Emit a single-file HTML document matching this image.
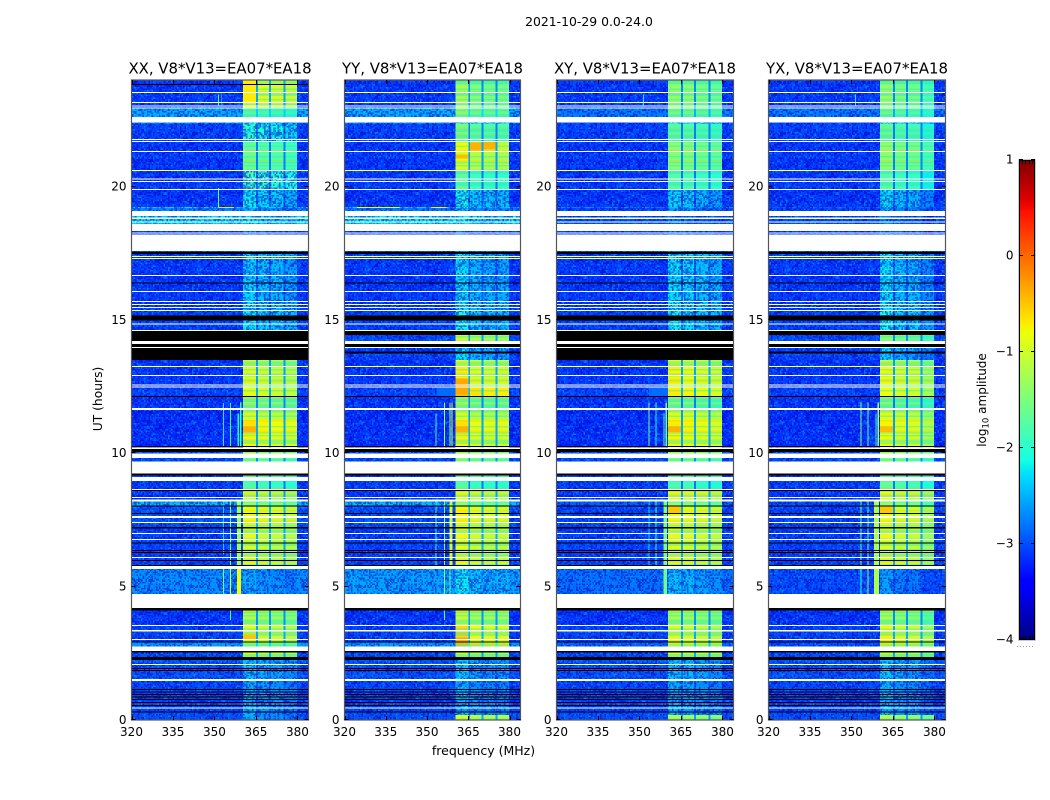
<!DOCTYPE html>
<html>
<head>
<meta charset="utf-8">
<title>2021-10-29 0.0-24.0</title>
<style>
html,body{margin:0;padding:0;background:#fff;width:1050px;height:800px;overflow:hidden}
svg{display:block}
text{font-family:"DejaVu Sans","Liberation Sans",sans-serif;fill:#000}
</style>
</head>
<body>
<svg id="figure" width="1050" height="800" viewBox="0 0 1050 800" xmlns="http://www.w3.org/2000/svg">
  <defs>
    <pattern id="grain" x="0" y="0" width="84" height="84" patternUnits="userSpaceOnUse"></pattern>
    <pattern id="stripes" x="0" y="0" width="12" height="90" patternUnits="userSpaceOnUse"></pattern>
    <linearGradient id="jetGradient" x1="0" y1="1" x2="0" y2="0"></linearGradient>
  </defs>
  <text x="589" y="26" font-size="12.4" text-anchor="middle">2021-10-29 0.0-24.0</text>
  <text x="483.5" y="755" font-size="12.5" text-anchor="middle">frequency (MHz)</text>
  <text transform="translate(102,399) rotate(-90)" font-size="12.3" text-anchor="middle">UT (hours)</text>
  <text transform="translate(986,400) rotate(-90)" font-size="12" text-anchor="middle">log<tspan font-size="8.5" dy="2.5">10</tspan><tspan dy="-2.5"> amplitude</tspan></text>
  <g id="panels"></g>
  <g id="colorbar"></g>
</svg>
<script>
/* ---------- axis ticks ---------- */
const freqTicks = [320, 335, 350, 365, 380];
const utTicks = [0, 5, 10, 15, 20];
const colorbarTicks = [1, 0, -1, -2, -3, -4];

/* ---------- frequency columns (MHz) ---------- */
const freqEdges = [320, 360.4, 365.1, 365.7, 369.8, 370.5, 374.9, 375.6, 379.9, 384];
const columnKinds = ['bg', 0, 'gap', 1, 'gap', 2, 'gap', 3, 'bg'];

/* ---------- UT bands (hours), ascending ---------- */
const utEdges = [0,0.19,0.30,1.46,2.25,2.55,2.92,3.32,3.53,4.2,5.7,6.0,6.62,7.19,7.41,8.02,8.22,8.61,8.96,9.69,9.99,10.28,10.69,11.25,11.67,12.13,12.47,13.26,13.5,13.78,14.1,14.5,15.34,17.55,18.34,19.09,19.2,19.24,19.9,20.6,21.32,21.7,22.36,22.61,22.95,23.8,24];

/* ---------- log10 amplitude per UT band ---------- */
const xxBackground = [-3.0,-3.0,-3.05,-2.95,-3.0,-2.6,-3.05,-3.05,-3.1,-2.65,-3.05,-3.05,-3.05,-3.0,-2.95,-2.45,-3.1,-3.05,-3.05,-3.0,-3.0,-3.15,-3.15,-3.15,-3.1,-3.05,-3.1,-3.1,-3.05,-3.1,-3.0,-3.05,-3.1,-3.05,-2.25,-2.7,-2.3,-3.1,-3.1,-3.1,-3.1,-3.05,-2.5,-2.5,-3.1,-3.1];
const xxBlocks = [-2.6,-2.6,-2.6,-2.5,-1.1,-1.4,-0.95,-1.0,-1.3,-2.6,-1.05,-1.0,-1.0,-1.0,-0.95,-1.5,-1.1,-1.9,-1.5,-1.6,-0.9,-0.85,-0.75,-1.05,-1.5,-0.95,-1.0,-1.15,-2.4,-2.4,-1.6,-2.3,-2.4,-2.9,-2.3,-2.6,-2.3,-2.3,-1.96,-1.7,-1.75,-2.1,-2.3,-1.9,-0.9,-0.8];
const yyBackground = [-3.0,-3.0,-3.05,-2.95,-3.0,-2.6,-3.05,-3.05,-3.1,-2.55,-3.05,-3.05,-3.05,-3.0,-3.0,-2.45,-3.1,-3.05,-3.05,-3.0,-3.0,-3.15,-3.15,-3.15,-3.1,-3.05,-3.1,-3.1,-3.05,-3.1,-3.0,-3.05,-3.1,-3.05,-2.2,-2.75,-2.3,-3.1,-3.1,-3.1,-3.1,-3.05,-2.5,-2.5,-3.1,-3.1];
const yyBlocks = [-1.1,-2.6,-2.6,-2.5,-1.2,-0.6,-0.75,-0.75,-1.2,-2.35,-1.0,-0.95,-0.95,-0.95,-0.9,-1.5,-1.0,-1.9,-1.5,-1.5,-0.9,-0.9,-0.8,-1.1,-1.5,-0.6,-0.85,-0.95,-2.4,-2.4,-1.2,-2.3,-2.4,-2.9,-2.3,-2.6,-2.3,-2.3,-1.85,-1.1,-0.95,-1.7,-2.2,-1.6,-1.4,-1.6];
const xyBackground = [-3.0,-3.0,-3.05,-2.95,-3.0,-2.9,-3.05,-3.05,-3.1,-2.8,-3.05,-3.05,-3.05,-3.05,-3.05,-2.9,-3.1,-3.05,-3.05,-3.0,-3.0,-3.15,-3.15,-3.15,-3.1,-3.05,-3.1,-3.1,-3.05,-3.1,-3.0,-3.05,-3.1,-3.05,-3.0,-3.05,-2.7,-3.1,-3.1,-3.1,-3.1,-3.05,-3.0,-2.75,-3.1,-3.1];
const xyBlocks = [-1.3,-2.6,-2.6,-2.5,-1.1,-0.9,-0.95,-1.0,-1.35,-2.5,-1.05,-0.95,-0.95,-1.0,-0.95,-1.5,-0.95,-1.95,-1.5,-1.6,-0.9,-0.85,-0.8,-1.0,-1.65,-0.8,-0.85,-1.0,-2.4,-2.4,-1.6,-2.3,-2.35,-2.9,-2.9,-2.7,-2.5,-2.4,-1.85,-1.55,-1.5,-1.85,-2.3,-1.7,-1.45,-1.6];
const yxBackground = [-3.0,-3.0,-3.05,-2.95,-3.0,-3.0,-3.05,-3.05,-3.1,-3.0,-3.05,-3.05,-3.05,-3.05,-3.05,-3.0,-3.1,-3.05,-3.05,-3.0,-3.0,-3.15,-3.15,-3.15,-3.1,-3.05,-3.1,-3.1,-3.05,-3.1,-3.0,-3.05,-3.1,-3.05,-3.0,-3.05,-2.9,-3.1,-3.1,-3.1,-3.1,-3.05,-3.0,-2.75,-3.1,-3.1];
const yxBlocks = [-1.3,-2.6,-2.6,-2.5,-1.2,-0.9,-0.9,-0.95,-1.4,-2.7,-1.05,-1.0,-1.0,-1.0,-1.0,-1.5,-1.0,-1.8,-1.5,-1.6,-0.95,-0.95,-0.9,-1.05,-1.7,-0.95,-0.95,-1.1,-2.5,-2.4,-1.6,-2.3,-2.4,-2.9,-2.9,-2.7,-2.6,-2.4,-1.9,-1.55,-1.5,-1.85,-2.3,-1.8,-1.5,-1.65];

/* relative level of the four band blocks */
const xxBlockOffsets = [0.1, 0, -0.05, -0.15];
const yyBlockOffsets = [0.15, -0.05, -0.1, -0.1];
const xyBlockOffsets = [0.1, 0.05, -0.05, -0.15];
const yxBlockOffsets = [0.15, 0, -0.05, -0.3];

/* interference features: [freqStart, freqEnd, utStart, utEnd, level] */
const xxFeatures = [[353.1,353.5,10.28,11.89,-2.2],[355.6,356,10.28,11.89,-2.0],[358.4,358.8,10.28,11.5,-2.1],[359.3,359.7,10.28,11.9,-2.0],[353.1,353.5,4.73,5.66,-1.6],[355.6,356,4.73,5.66,-0.9],[358.2,359.6,4.73,5.66,-0.8],[355.6,356,3.75,4.2,-1.9],[353.1,353.5,6.2,8.2,-2.3],[355.6,356,5.8,8.2,-1.6],[358.2,359.6,5.8,8.2,-1.3],[351.2,351.7,23.05,23.45,-1.8],[352.5,352.8,23.05,23.45,-2.0],[351.2,351.6,19.24,19.95,-1.7],[351.5,357,19.2,19.24,-0.6],[353.4,353.8,19.9,19.94,0.2],[360.4,365.1,23.2,24,-0.7],[360.4,365.1,10.8,11.0,-0.4],[360.4,365.1,3.0,3.2,-0.5]];
const yyFeatures = [[353,353.5,10.28,11.5,-1.9],[356.2,356.6,10.28,11.9,-1.3],[358.1,358.5,10.28,11.9,-1.4],[358.9,359.3,10.28,11.9,-1.0],[356.2,356.6,4.73,5.66,-1.5],[358.1,358.5,4.73,5.66,-1.6],[353,353.5,5.8,8.2,-2.0],[356.2,356.6,5.8,8.2,-1.4],[358.1,359.3,5.8,8.2,-1.0],[356.2,356.6,3.75,4.2,-1.8],[324.5,340,19.2,19.24,-0.8],[351.5,357,19.2,19.24,-0.7],[353.5,360.4,12.13,12.47,-2.85],[360.4,365.1,12.2,12.8,-0.35],[365.7,369.8,21.35,21.65,-0.4],[370.5,374.9,21.4,21.7,-0.4],[360.4,365.1,21.05,21.2,-0.45],[360.4,365.1,2.92,3.1,-0.35],[360.4,365.1,10.8,11.0,-0.4]];
const xyFeatures = [[353.3,353.7,10.28,11.9,-1.6],[355.8,356.2,10.28,11.9,-2.1],[358.6,359,10.28,11.5,-1.9],[359.5,359.9,10.28,11.9,-1.5],[358.6,359.9,4.73,5.66,-1.6],[353.3,353.7,5.8,8.2,-2.3],[355.8,356.2,5.8,8.2,-1.9],[358.6,359.9,5.8,8.2,-1.5],[351.2,351.6,23.05,23.45,-2.2],[353.5,360.4,12.13,12.47,-2.85],[360.4,365.1,7.75,8.0,-0.5],[360.4,365.1,10.8,11.0,-0.4]];
const yxFeatures = [[353.3,353.7,10.28,11.9,-1.5],[355.8,356.2,10.28,11.9,-1.6],[358.6,359,10.28,11.5,-2.0],[359.5,359.9,10.28,11.9,-1.2],[353.3,353.7,4.73,5.66,-2.0],[355.8,356.2,4.73,5.66,-1.4],[358.2,359.9,4.73,5.66,-1.2],[353.3,353.7,5.8,8.2,-1.7],[355.8,356.2,5.8,8.2,-1.7],[358.2,359.9,5.8,8.2,-1.2],[351.2,351.6,23.05,23.45,-2.2],[360.4,365.1,7.75,8.0,-0.5],[360.4,365.1,10.8,11.0,-0.45]];

/* flagged rows: [utStart, utEnd] in hours */
const blankRows = [[23.51,23.55],[23.14,23.18],[23.01,23.04],[22.93,22.97],[22.41,22.61],[21.75,21.79],[21.68,21.71],[21.30,21.34],[20.59,20.63],[20.27,20.31],[20.18,20.21],[19.88,19.91],[18.90,19.09],[18.79,18.84],[18.66,18.69],[18.34,18.60],[18.24,18.28],[17.59,18.21],[17.36,17.40],[17.29,17.33],[16.65,16.69],[16.05,16.09],[15.68,15.71],[15.56,15.60],[15.45,15.49],[15.34,15.38],[14.83,14.87],[14.59,14.63],[14.10,14.21],[13.95,13.99],[13.24,13.28],[12.90,12.94],[12.54,12.58],[12.47,12.51],[11.63,11.70],[10.16,10.22],[9.83,9.99],[9.25,9.69],[8.96,9.12],[8.63,8.66],[8.33,8.36],[8.19,8.27],[7.58,7.65],[7.39,7.43],[6.98,7.01],[6.75,6.79],[6.08,6.11],[5.66,5.78],[4.20,4.73],[3.53,3.56],[3.32,3.38],[3.00,3.04],[2.59,2.75],[2.06,2.10],[1.46,1.54],[0.43,0.47]];
const zeroRows = [[17.48,17.55],[16.37,16.41],[14.98,15.17],[14.44,14.59],[13.99,14.10],[13.74,13.82],[12.11,12.15],[10.24,10.28],[10.05,10.16],[9.16,9.25],[8.59,8.63],[8.01,8.04],[7.73,7.76],[7.19,7.23],[6.62,6.66],[6.34,6.38],[6.26,6.30],[5.96,6.0],[5.78,5.81],[4.11,4.20],[2.91,2.94],[2.53,2.59],[2.25,2.36],[1.91,1.95],[1.84,1.88],[1.13,1.16],[1.03,1.07],[0.94,0.98],[0.84,0.88],[0.75,0.79],[0.64,0.68],[0.53,0.56],[0.28,0.32]];
const xxZeroRows = [[14.21,14.44],[13.82,13.95],[13.5,13.74],[23.81,23.85]];
const yyZeroRows = [];
const xyZeroRows = [[14.21,14.44],[13.82,13.95],[13.5,13.74]];
const yxZeroRows = [];

/* ---------- panels ---------- */
const polarisations = ['XX', 'YY', 'XY', 'YX'];
const panelLeft = [131.5, 344.5, 556.5, 768.5];
const panelWidths = [177, 176, 177, 177];
const baselineLabel = 'V8*V13=EA07*EA18';
const backgroundSeries = [xxBackground, yyBackground, xyBackground, yxBackground];
const blockSeries = [xxBlocks, yyBlocks, xyBlocks, yxBlocks];
const offsetSeries = [xxBlockOffsets, yyBlockOffsets, xyBlockOffsets, yxBlockOffsets];
const featureSeries = [xxFeatures, yyFeatures, xyFeatures, yxFeatures];
const panelZeroSeries = [xxZeroRows, yyZeroRows, xyZeroRows, yxZeroRows];

const SVGNS = 'http://www.w3.org/2000/svg';
const panelTop = 80, panelBottom = 720, freqMin = 320, freqMax = 384, utMin = 0, utMax = 24;
const cbLeft = 1019, cbRight = 1035, cbTop = 160, cbBottom = 640, cbMin = -4, cbMax = 1;

function xScale(p, f) { return panelLeft[p] + (f - freqMin) / (freqMax - freqMin) * panelWidths[p]; }
function yScale(h) { return panelBottom - (h - utMin) / (utMax - utMin) * (panelBottom - panelTop); }
function cbScale(v) { return cbBottom - (v - cbMin) / (cbMax - cbMin) * (cbBottom - cbTop); }

function interp(t, stops) {
  for (let i = 1; i < stops.length; i++) {
    if (t <= stops[i][0]) {
      const a = stops[i - 1], b = stops[i];
      return a[1] + (b[1] - a[1]) * (t - a[0]) / (b[0] - a[0]);
    }
  }
  return stops[stops.length - 1][1];
}
function jet(t) {
  t = Math.max(0, Math.min(1, t));
  const r = interp(t, [[0,0],[0.35,0],[0.66,1],[0.89,1],[1,0.5]]);
  const g = interp(t, [[0,0],[0.125,0],[0.375,1],[0.64,1],[0.91,0],[1,0]]);
  const b = interp(t, [[0,0.5],[0.11,1],[0.34,1],[0.65,0],[1,0]]);
  return 'rgb(' + Math.round(r * 255) + ',' + Math.round(g * 255) + ',' + Math.round(b * 255) + ')';
}
function colorOf(v) { return jet((v - cbMin) / (cbMax - cbMin)); }

function makeRect(parent, x0, y0, x1, y1, fill) {
  const r = document.createElementNS(SVGNS, 'rect');
  r.setAttribute('x', Math.min(x0, x1));
  r.setAttribute('y', Math.min(y0, y1));
  r.setAttribute('width', Math.abs(x1 - x0));
  r.setAttribute('height', Math.abs(y1 - y0));
  r.setAttribute('fill', fill);
  r.setAttribute('shape-rendering', 'crispEdges');
  parent.appendChild(r);
  return r;
}
function makeLine(parent, x1, y1, x2, y2, stroke) {
  const l = document.createElementNS(SVGNS, 'line');
  l.setAttribute('x1', x1);
  l.setAttribute('y1', y1);
  l.setAttribute('x2', x2);
  l.setAttribute('y2', y2);
  l.setAttribute('stroke', stroke);
  l.setAttribute('stroke-width', 1);
  parent.appendChild(l);
  return l;
}
function makeText(parent, x, y, str, size, anchor) {
  const t = document.createElementNS(SVGNS, 'text');
  t.setAttribute('x', x);
  t.setAttribute('y', y);
  t.setAttribute('font-size', size);
  t.setAttribute('text-anchor', anchor);
  t.textContent = str;
  parent.appendChild(t);
  return t;
}
function makeGroup(parent, name) {
  const g = document.createElementNS(SVGNS, 'g');
  
  
  parent.appendChild(g);
  return g;
}

/* ---------- decorative grain and stripe tiles (texture, not data) ---------- */
const grainTile = document.getElementById('grain');
let grainState = 20211029;
for (let iy = 0; iy < 56; iy++) {
  for (let ix = 0; ix < 56; ix++) {
    grainState = (Math.imul(grainState, 1664525) + 1013904223) >>> 0;
    const g = (grainState >>> 24) / 256;
    let col = null, op = 0;
    if (g < 0.3) { col = 'rgb(0,0,190)'; op = 0.55; }
    else if (g > 0.93) { col = 'rgb(0,170,255)'; op = 0.55; }
    else if (g > 0.72) { col = 'rgb(0,100,255)'; op = 0.55; }
    if (col) {
      const sp = makeRect(grainTile, ix * 1.5, iy * 1.5, ix * 1.5 + 1.5, iy * 1.5 + 1.5, col);
      sp.setAttribute('fill-opacity', op);
      
      
    }
  }
}
const stripeTile = document.getElementById('stripes');
for (let iy = 0; iy < 60; iy++) {
  grainState = (Math.imul(grainState, 1664525) + 1013904223) >>> 0;
  const g = (grainState >>> 24) / 256;
  let col = null, op = 0;
  if (g < 0.3) { col = 'rgb(40,230,190)'; op = 0.4; }
  else if (g > 0.9) { col = 'rgb(255,170,0)'; op = 0.25; }
  if (col) {
    const st = makeRect(stripeTile, 0, iy * 1.5, 12, iy * 1.5 + 1.5, col);
    st.setAttribute('fill-opacity', op);
    
    
  }
}

const panelsRoot = document.getElementById('panels');

polarisations.forEach(function (pol, p) {
  const name = pol.toLowerCase();
  const panel = makeGroup(panelsRoot, 'panel-' + name);
  const heat = makeGroup(panel, 'heatmap-' + name);
  const bg = backgroundSeries[p], blk = blockSeries[p], off = offsetSeries[p];
  const pRight = panelLeft[p] + panelWidths[p];

  /* heatmap cells */
  for (let b = 0; b < utEdges.length - 1; b++) {
    for (let c = 0; c < freqEdges.length - 1; c++) {
      const kind = columnKinds[c];
      let value;
      if (kind === 'bg') value = bg[b];
      else if (kind === 'gap') value = bg[b] + 0.25 * (blk[b] - bg[b]);
      else value = blk[b] + off[kind];
      const cell = makeRect(heat, xScale(p, freqEdges[c]), yScale(utEdges[b]), xScale(p, freqEdges[c + 1]), yScale(utEdges[b + 1]), colorOf(value));
      
      
    }
  }

  /* grain on the background columns */
  const grainLeft = makeRect(panel, xScale(p, 320), panelTop, xScale(p, 360.4), panelBottom, 'url(#grain)');
  
  
  const grainRight = makeRect(panel, xScale(p, 379.9), panelTop, xScale(p, 384), panelBottom, 'url(#grain)');
  
  

  /* texture on the blocks: mottled when dim, striped when bright */
  for (let b = 0; b < utEdges.length - 1; b++) {
    if (blk[b] < -1.95) {
      const mottle = makeRect(panel, xScale(p, 360.4), yScale(utEdges[b]), xScale(p, 379.9), yScale(utEdges[b + 1]), 'url(#grain)');
      
      
    } else {
      for (let c = 0; c < columnKinds.length; c++) {
        if (typeof columnKinds[c] === 'number') {
          const stripes = makeRect(panel, xScale(p, freqEdges[c]), yScale(utEdges[b]), xScale(p, freqEdges[c + 1]), yScale(utEdges[b + 1]), 'url(#stripes)');
          
          
        }
      }
    }
  }

  /* interference features */
  featureSeries[p].forEach(function (f) {
    const feat = makeRect(panel, xScale(p, f[0]), yScale(f[2]), xScale(p, f[1]), yScale(f[3]), colorOf(f[4]));
    
    
  });

  /* flagged rows */
  zeroRows.concat(panelZeroSeries[p]).forEach(function (r) {
    const row = makeRect(panel, panelLeft[p], yScale(r[0]), pRight, yScale(r[1]), '#000');
    
    
  });
  blankRows.forEach(function (r) {
    const row = makeRect(panel, panelLeft[p], yScale(r[0]), pRight, yScale(r[1]), '#fff');
    
    
  });

  /* frame */
  const frame = document.createElementNS(SVGNS, 'rect');
  frame.setAttribute('x', panelLeft[p]);
  frame.setAttribute('y', panelTop);
  frame.setAttribute('width', panelWidths[p]);
  frame.setAttribute('height', panelBottom - panelTop);
  frame.setAttribute('fill', 'none');
  frame.setAttribute('stroke', '#555');
  frame.setAttribute('stroke-width', 1.2);
  
  
  panel.appendChild(frame);

  /* title */
  const title = makeText(panel, panelLeft[p] + panelWidths[p] / 2, 73.5, pol + ', ' + baselineLabel, 14.9, 'middle');
  
  

  /* x ticks */
  freqTicks.forEach(function (f) {
    const x = Math.round(xScale(p, f)) + 0.5;
    const tb = makeLine(panel, x, panelBottom, x, panelBottom - 4, '#000');
    
    
    const tt = makeLine(panel, x, panelTop, x, panelTop + 4, '#000');
    
    
    const lab = makeText(panel, xScale(p, f), 736, String(f), 12, 'middle');
    
    
  });

  /* y ticks */
  utTicks.forEach(function (h) {
    const y = Math.round(yScale(h)) - 0.5;
    const tl = makeLine(panel, panelLeft[p], y, panelLeft[p] + 4, y, '#000');
    
    
    const tr = makeLine(panel, pRight, y, pRight - 4, y, '#000');
    
    
    const lab = makeText(panel, panelLeft[p] - 5, yScale(h) + 3.8, String(h), 12, 'end');
    
    
  });
});

/* ---------- colorbar ---------- */
const cbRoot = document.getElementById('colorbar');
const gradient = document.getElementById('jetGradient');
for (let i = 0; i <= 64; i++) {
  const stop = document.createElementNS(SVGNS, 'stop');
  stop.setAttribute('offset', (i / 64).toFixed(4));
  stop.setAttribute('stop-color', jet(i / 64));
  gradient.appendChild(stop);
}
const cbFill = makeRect(cbRoot, cbLeft, cbTop, cbRight, cbBottom, 'url(#jetGradient)');



const cbHalo = document.createElementNS(SVGNS, 'rect');
cbHalo.setAttribute('x', cbLeft);
cbHalo.setAttribute('y', cbTop);
cbHalo.setAttribute('width', cbRight - cbLeft);
cbHalo.setAttribute('height', cbBottom - cbTop);
cbHalo.setAttribute('fill', 'none');
cbHalo.setAttribute('stroke', '#bbb');
cbHalo.setAttribute('stroke-width', 1.6);


cbRoot.appendChild(cbHalo);

const cbFrame = document.createElementNS(SVGNS, 'rect');
cbFrame.setAttribute('x', cbLeft + 0.5);
cbFrame.setAttribute('y', cbTop + 0.5);
cbFrame.setAttribute('width', cbRight - cbLeft - 1);
cbFrame.setAttribute('height', cbBottom - cbTop - 1);
cbFrame.setAttribute('fill', 'none');
cbFrame.setAttribute('stroke', '#000');
cbFrame.setAttribute('stroke-width', 1);


cbRoot.appendChild(cbFrame);

colorbarTicks.forEach(function (v) {
  const y = Math.round(cbScale(v)) - 0.5;
  const a = makeLine(cbRoot, cbLeft, y, cbLeft + 4, y, '#000');
  
  
  const b = makeLine(cbRoot, cbRight, y, cbRight - 4, y, '#000');
  
  
  const str = v < 0 ? '\u2212' + Math.abs(v) : String(v);
  const lab = makeText(cbRoot, cbLeft - 5.5, cbScale(v) + 3.5, str, 12, 'end');
  
  
});

/* minor vertical ticks at colorbar ends and their tiny dotted labels */
const cbEndTickFractions = [0.2, 0.4, 0.6, 0.8];
cbEndTickFractions.forEach(function (fr) {
  const x = Math.round(cbLeft + fr * (cbRight - cbLeft)) + 0.5;
  const top = makeLine(cbRoot, x, cbTop, x, cbTop + 4, '#000');
  
  
  const bottom = makeLine(cbRoot, x, cbBottom, x, cbBottom - 4, '#000');
  
  
});
const cbDots = makeLine(cbRoot, 1017, 646.5, 1035, 646.5, '#999');
cbDots.setAttribute('stroke-dasharray', '1 2');


</script>
</body>
</html>
